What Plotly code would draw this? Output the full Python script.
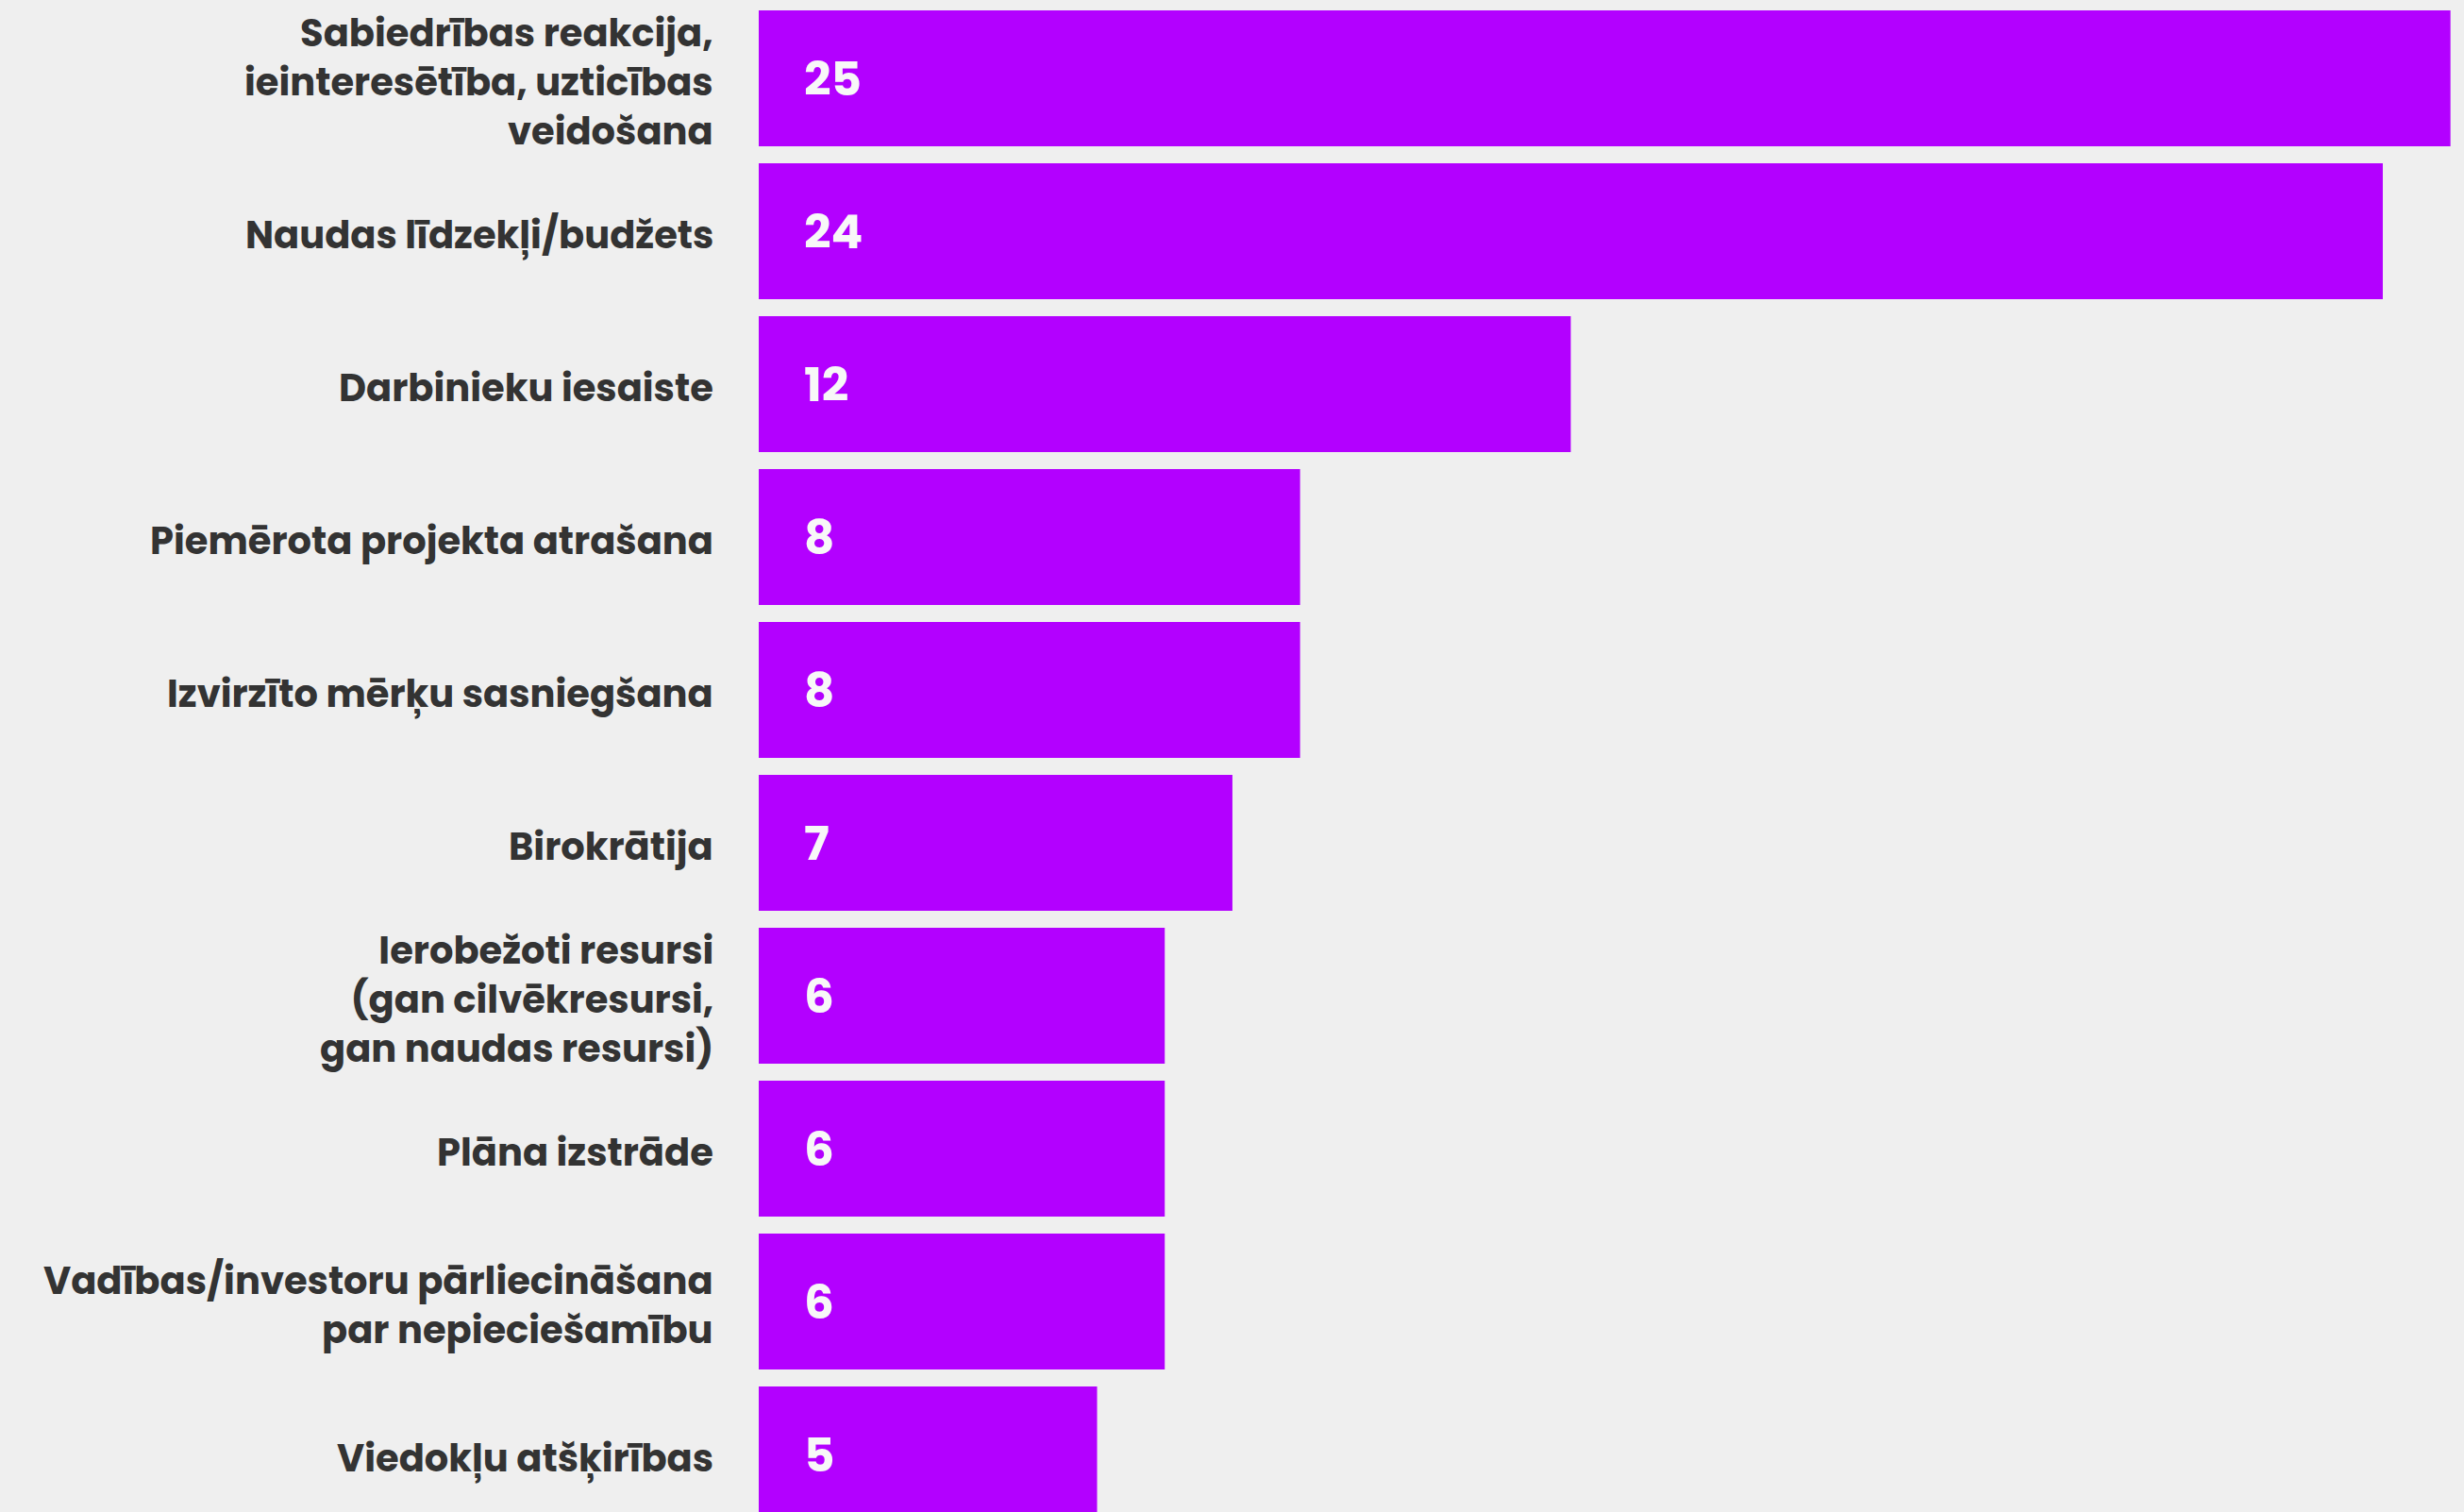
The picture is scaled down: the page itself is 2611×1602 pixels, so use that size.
import plotly.graph_objects as go

categories = [
    "Sabiedrības reakcija,<br>ieinteresētība, uzticības<br>veidošana",
    "Naudas līdzekļi/budžets",
    "Darbinieku iesaiste",
    "Piemērota projekta atrašana",
    "Izvirzīto mērķu sasniegšana",
    "Birokrātija",
    "Ierobežoti resursi<br>(gan cilvēkresursi,<br>gan naudas resursi)",
    "Plāna izstrāde",
    "Vadības/investoru pārliecināšana<br>par nepieciešamību",
    "Viedokļu atšķirības",
]
values = [25, 24, 12, 8, 8, 7, 6, 6, 6, 5]

BAR = "#B300FF"
BG = "#EFEFEF"
TXT = "#333333"
FONT = "Poppins, Open Sans, sans-serif"

idx = list(range(len(categories)))

fig = go.Figure()
fig.add_trace(go.Bar(
    x=values, y=idx, orientation="h",
    marker=dict(color=BAR, line=dict(width=0)),
    hoverinfo="skip",
))

for i, v in zip(idx, values):
    fig.add_annotation(
        x=0, y=i, xref="x", yref="y", text=str(v), showarrow=False,
        xanchor="left", yanchor="middle", xshift=46, yshift=-1,
        font=dict(family=FONT, size=50, color="#F8F8F8", weight=700),
    )

for i, c in zip(idx, categories):
    fig.add_annotation(
        x=0, y=i, xref="paper", yref="y", text=c, showarrow=False,
        xanchor="right", yanchor="middle", align="right",
        xshift=-46, yshift=-4,
        font=dict(family=FONT, size=40, color=TXT, weight=700),
    )

fig.update_layout(
    width=2611, height=1602,
    margin=dict(l=804, r=0, t=0, b=0),
    paper_bgcolor=BG, plot_bgcolor=BG,
    bargap=0.111,
    showlegend=False,
    xaxis=dict(range=[0, 25.2], visible=False, fixedrange=True),
    yaxis=dict(
        range=[9.377, -0.512], autorange=False,
        showticklabels=False,
        showgrid=False, zeroline=False, showline=False, ticks="",
    ),
)

fig.write_html("out.html")
